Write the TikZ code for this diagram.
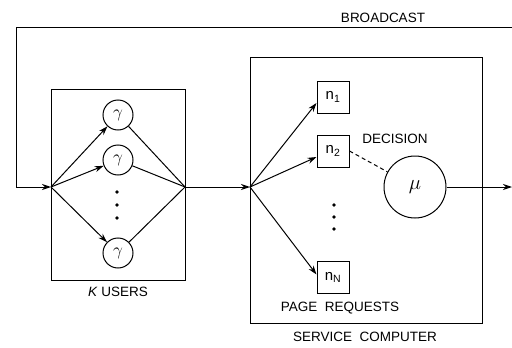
\documentclass[tikz,border=0pt]{standalone}
\usepackage{fontspec}
\setmainfont{Liberation Sans}
\usetikzlibrary{arrows.meta,calc}
\begin{document}
\begin{tikzpicture}[x=1pt,y=-1pt,
  line width=1pt,
  every node/.style={font=\fontsize{13.5}{16}\selectfont},
  arr/.style={-{Stealth[length=9pt,width=6pt]}},
  usr/.style={draw,circle,minimum size=30pt,inner sep=0pt,font=\fontsize{17}{19}\selectfont},
  req/.style={draw,rectangle,minimum size=32pt,inner sep=0pt,font=\fontsize{15}{17}\selectfont},
  dotnode/.style={circle,fill,inner sep=0pt,minimum size=3.6pt},
  lbl/.style={inner sep=0pt}]
\useasboundingbox (0,0) rectangle (512,348);
% boxes
\node[draw,minimum width=134pt,minimum height=191pt,inner sep=0pt] (ubox) at (118,184.5) {};
\node[draw,minimum width=232pt,minimum height=266pt,inner sep=0pt] (sbox) at (366,190) {};
% junctions
\coordinate (J1) at (51,187);
\coordinate (J2) at (185,187);
\coordinate (J3) at (250,187);
\coordinate (B0) at (512,27);
\coordinate (B1) at (16,27);
\coordinate (B2) at (16,187);
\coordinate (OUT) at (512,187);
% users
\node[usr] (c1) at (118,115) {$\gamma$};
\node[usr] (c2) at (118,160) {$\gamma$};
\node[usr] (c3) at (118,253) {$\gamma$};
\node[dotnode] (d1) at (117,192) {};
\node[dotnode] (d2) at (117,205) {};
\node[dotnode] (d3) at (117,218) {};
% requests
\node[req] (n1) at (333,97) {n\textsubscript{1}};
\node[req] (n2) at (333,151) {n\textsubscript{2}};
\node[req] (nN) at (333,277.5) {n\textsubscript{N}};
\node[dotnode] (e1) at (334,205) {};
\node[dotnode] (e2) at (334,217) {};
\node[dotnode] (e3) at (334,229) {};
\node[draw,circle,minimum size=62pt,inner sep=0pt,font=\fontsize{20}{22}\selectfont] (mu) at (415,187) {$\mu$};
% labels
\node[lbl] (lb) at (383,18) {BROADCAST};
\node[lbl] (ld) at (395,139) {DECISION};
\node[lbl] (lp) at (340,308) {PAGE\ \ REQUESTS};
\node[lbl] (ls) at (365,337) {SERVICE\ \ COMPUTER};
\node[lbl] (lk) at (118,292) {\textit{K} USERS};
% connectors
\draw[arr] (B0) -- (B1) -- (B2) -- (J1);
\draw[arr] (J1) -- (c1);
\draw[arr] (J1) -- (c2);
\draw[arr] (J1) -- (c3);
\draw (c1) -- (J2);
\draw (c2) -- (J2);
\draw (c3) -- (J2);
\draw[arr] (J2) -- (J3);
\draw[arr] (J3) -- ([yshift=-6pt]n1.west);
\draw[arr] (J3) -- ([yshift=-6pt]n2.west);
\draw[arr] (J3) -- ([yshift=3pt]nN.west);
\draw[dashed,dash pattern=on 4pt off 3pt] (n2.east) -- (mu);
\draw[arr] (mu) -- (OUT);
\end{tikzpicture}
\end{document}
